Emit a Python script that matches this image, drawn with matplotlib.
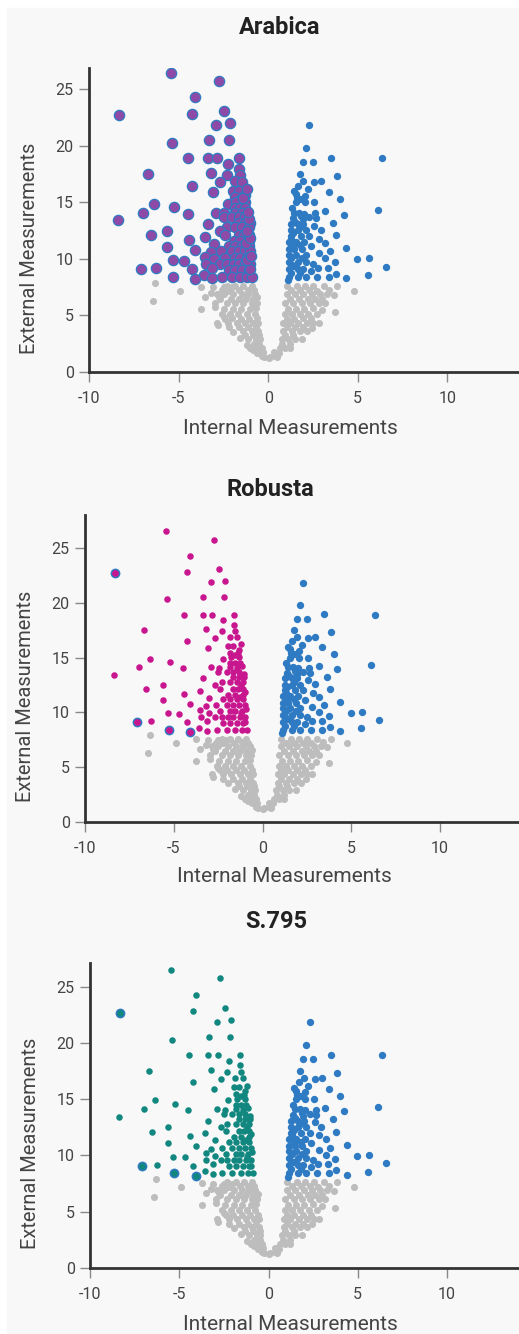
import matplotlib
matplotlib.use("Agg")
import matplotlib.pyplot as plt
from matplotlib.patches import Rectangle

plt.rcParams["font.family"] = ["Roboto", "DejaVu Sans"]
plt.rcParams["axes.unicode_minus"] = False

# ---- data (same points in all three panels) ----
left_x = [-5.44, -4.08, -4.25, -2.9, -2.72, -2.44, -2.12, -5.38, -3.33, -2.16,
          -4.45, -3.37, -2.83, -1.6, -2.22, -1.62, -6.69, -3.2, -2.31, -1.55,
          -2.68, -1.85, -1.45, -4.23, -3.06, -1.96, -1.64, -1.3, -1.83, -1.55,
          -6.35, -5.23, -6.97, -4.5, -2.9, -2.25, -1.79, -1.3, -1.83, -1.55,
          -1.27, -2.45, -1.83, -1.45, -8.36, -2.49, -2.02, -1.64, -1.31, -3.37,
          -1.64, -1.31, -1.02, -2.3, -1.83, -1.45, -1.08, -5.63, -2.68, -6.54,
          -2.39, -1.64, -1.36, -1.08, -4.41, -3.54, -1.93, -1.55, -1.08, -3.0,
          -5.63, -2.21, -1.83, -1.45, -1.08, -4.08, -3.2, -2.62, -2.02, -1.64,
          -1.31, -0.99, -3.52, -2.39, -1.83, -1.55, -1.17, -5.33, -4.7, -3.0,
          -3.48, -2.68, -2.3, -1.93, -1.64, -1.27, -0.99, -6.26, -4.23, -3.13,
          -2.2, -1.83, -1.45, -1.08, -3.58, -3.13, -2.58, -2.02, -1.55, -1.17,
          -0.89, -1.0, -1.2, -0.95, -1.25, -1.0, -1.2, -1.05, -1.15, -1.4, -1.2]
left_y = [26.5, 24.3, 22.8, 21.9, 25.75, 23.1, 22.0, 20.3, 20.5, 20.5,
          18.9, 18.9, 18.9, 18.9, 18.4, 18.0, 17.5, 17.6, 17.4, 17.45,
          16.8, 16.9, 16.85, 16.5, 15.9, 16.06, 16.06, 15.7, 15.45, 15.24,
          14.9, 14.6, 14.1, 14.0, 14.1, 14.9, 15.03, 15.03, 14.5, 14.5,
          14.5, 14.08, 14.1, 14.08, 13.45, 13.7, 13.7, 13.7, 13.7, 13.1,
          13.2, 13.2, 13.2, 12.8, 12.8, 12.8, 12.8, 12.5, 12.5, 12.1,
          12.16, 12.16, 12.16, 12.16, 11.7, 11.98, 11.6, 11.6, 11.6, 11.34,
          11.1, 11.18, 11.18, 11.18, 11.18, 10.8, 10.58, 10.67, 10.67, 10.67,
          10.67, 10.67, 10.2, 10.1, 10.1, 10.1, 10.1, 9.9, 9.85, 9.97,
          9.6, 9.58, 9.58, 9.58, 9.58, 9.58, 9.58, 9.17, 9.09, 9.24,
          9.03, 9.03, 9.03, 9.03, 8.58, 8.33, 8.4, 8.4, 8.4, 8.4,
          8.4, 9.1, 9.9, 10.3, 11.4, 11.9, 12.5, 13.5, 14.2, 15.4, 16.2]

# points drawn enlarged in the Robusta and S.795 panels
special_x = [-8.32, -7.09, -5.29, -4.08]
special_y = [22.7, 9.09, 8.43, 8.2]

right_x = [2.3, 2.11, 1.93, 2.49, 3.48, 6.36, 1.79, 1.96, 1.68, 2.58,
           2.97, 3.84, 2.23, 3.37, 1.55, 2.07, 4.03, 1.55, 2.07, 2.55,
           6.11, 1.46, 1.74, 2.02, 2.64, 3.18, 4.21, 1.36, 1.93, 2.3,
           2.68, 3.62, 1.27, 1.65, 1.96, 2.58, 2.96, 1.27, 1.65, 2.11,
           3.8, 1.27, 1.83, 2.3, 2.83, 3.2, 1.17, 1.55, 2.02, 2.39,
           4.37, 1.17, 1.46, 1.89, 2.81, 3.46, 1.17, 1.55, 2.11, 3.2,
           3.75, 4.97, 5.62, 1.17, 1.65, 2.11, 2.49, 2.77, 3.34, 6.56,
           1.17, 1.65, 1.93, 2.39, 3.8, 5.55, 1.17, 1.65, 2.11, 2.72,
           3.37, 4.37, 1.08, 1.25, 1.35, 1.3, 1.4, 1.3, 1.4, 1.5,
           1.35, 1.6, 1.45, 1.75, 1.85, 1.75, 1.8, 1.9, 1.45, 1.8]
right_y = [21.84, 19.83, 18.55, 18.55, 18.95, 18.9, 17.5, 16.9, 16.5, 16.8,
           16.9, 17.3, 16.15, 15.94, 15.76, 15.6, 15.3, 15.0, 15.0, 15.0,
           14.3, 14.1, 14.1, 14.0, 14.08, 14.23, 13.93, 13.6, 13.5, 13.7,
           13.62, 13.2, 13.1, 13.1, 13.1, 12.96, 12.56, 12.53, 12.53, 12.53,
           12.1, 12.0, 12.0, 12.0, 11.8, 11.43, 11.5, 11.5, 11.5, 11.13,
           10.95, 10.86, 10.86, 10.86, 10.52, 10.67, 10.37, 10.37, 10.37, 10.07,
           9.7, 9.97, 10.07, 9.76, 9.76, 9.76, 9.6, 9.24, 9.24, 9.3,
           9.12, 9.12, 9.12, 8.94, 8.7, 8.55, 8.4, 8.4, 8.4, 8.4,
           8.4, 8.3, 8.1, 8.8, 9.45, 10.1, 11.2, 11.8, 12.3, 13.3,
           14.5, 15.4, 16.0, 15.3, 13.8, 12.8, 11.2, 10.1, 9.4, 8.8]

grey_x = [-6.31, -6.44, -4.9, -3.74, -3.09, -3.52, -3.74, -2.96, -2.77, -2.49,
          -2.03, -2.81, -2.49, -1.94, -1.56, -1.19, -0.82, -0.35, 0.02, 0.39,
          -2.31, -1.84, -1.38, -0.91, -2.87, -2.49, -1.94, -1.47, -1.1, -0.73,
          -2.96, -2.31, -1.84, -1.38, -0.91, -0.63, -2.59, -2.12, -1.66, -1.19,
          -0.73, -2.87, -2.22, -1.75, -1.28, -0.82, -0.54, -1.38, -0.91, -0.54,
          -1.1, -0.67, -0.45, -1.0, -0.63, -0.35, -0.26, 0.11, 0.48,
          0.67, 0.95, 1.23, 0.76, 1.13, 1.51, 1.88, 0.85, 1.32, 1.79,
          2.16, 0.85, 1.23, 1.69, 2.16, 2.53, 2.81, 0.95, 1.32, 1.79,
          2.25, 2.72, 0.95, 1.41, 1.88, 2.35, 2.81, 3.18, 1.04, 1.51,
          1.97, 2.44, 2.9, 3.28, 3.74, 3.65, 1.04, 1.6, 2.07, 2.53,
          3.09, 3.84, 4.77,
          -2.6, -2.2, -1.6, -1.15, -0.8, -3.2, -2.7, -2.1, -1.65, -1.25,
          -0.85, -0.6, -2.45, -1.95, -1.5, -1.0, -0.68, -2.4, -2.0, -1.5,
          -1.05, -0.6, -2.2, -1.65, -1.15, -0.7, -0.5, -1.3, -0.85, -0.8,
          -0.5, -0.6, -0.3,
          1.3, 1.8, 2.3, 2.75, 3.4, 1.2, 1.7, 2.2, 2.6, 3.0,
          1.1, 1.55, 2.0, 2.5, 3.0, 1.05, 1.45, 1.95, 2.4, 1.05,
          1.5, 1.95, 2.45, 0.95, 1.4, 0.8, 1.2, 0.6, 0.35]
grey_y = [7.9, 6.3, 7.2, 7.55, 7.5, 6.67, 5.6, 5.78, 6.67, 7.5,
          7.5, 4.13, 4.9, 3.57, 2.98, 2.39, 1.95, 1.4, 1.2, 1.4,
          7.6, 7.6, 7.6, 7.6, 6.9, 6.9, 6.9, 6.9, 6.9, 6.9,
          6.1, 6.1, 6.1, 6.1, 6.1, 6.1, 5.13, 5.13, 5.13, 5.13,
          5.13, 4.34, 4.34, 4.34, 4.34, 4.34, 4.34, 3.6, 3.6, 3.6,
          2.9, 2.9, 2.9, 2.1, 2.1, 2.1, 1.3, 1.3, 1.3,
          2.1, 2.1, 2.1, 2.9, 2.9, 2.9, 2.9, 3.6, 3.6, 3.6,
          3.6, 4.34, 4.34, 4.34, 4.34, 4.34, 4.34, 5.13, 5.13, 5.13,
          5.13, 5.13, 6.1, 6.1, 6.1, 6.1, 6.1, 6.1, 6.9, 6.9,
          6.9, 6.9, 6.9, 6.9, 5.34, 6.8, 7.6, 7.6, 7.6, 7.6,
          7.6, 7.6, 7.2,
          7.25, 7.2, 7.25, 7.3, 7.25, 7.0, 6.45, 6.5, 6.5, 6.45,
          6.5, 6.6, 5.6, 5.6, 5.6, 5.6, 5.65, 4.7, 4.75, 4.7,
          4.7, 4.75, 3.95, 3.95, 3.95, 3.95, 3.3, 3.25, 3.25, 2.5,
          2.5, 1.7, 1.75,
          7.25, 7.25, 7.25, 7.2, 7.3, 6.5, 6.5, 6.5, 6.45, 6.5,
          5.6, 5.6, 5.6, 5.65, 5.5, 4.7, 4.7, 4.75, 4.75, 3.95,
          3.95, 3.95, 3.9, 3.25, 3.25, 2.5, 2.5, 1.7, 1.75]

titles = ["Arabica", "Robusta", "S.795"]
x_ticks = [-10, -5, 0, 5, 10]
y_ticks = [0, 5, 10, 15, 20, 25]

W, H = 519, 1334
fig = plt.figure(figsize=(W / 100, H / 100), dpi=100)
fig.patch.set_facecolor("white")
fig.add_artist(Rectangle((7 / W, 0), 1, 1 - 8 / H, transform=fig.transFigure,
                         color="#f8f8f8", zorder=0))

grey = "#bdbdbd"
blue = "#2f7bc3"
dark = "#333333"

# pixel layout of each panel: left, right, bottom, top, xmax, ymax, title pos, xlabel pos
panels = [
    dict(l=89, r=519, b=372, t=68, xmax=14.0, ymax=26.9, tx=280, ty=28, lx=290, ly=428,
         ylx=30, left_c="#8d4aa6", left_s=55, left_edge=blue, spec_c=None),
    dict(l=85, r=519, b=822, t=515, xmax=14.45, ymax=28.0, tx=270, ty=489, lx=284, ly=877,
         ylx=26, left_c="#c8168f", left_s=22, left_edge="none", spec_c="#c8168f"),
    dict(l=90, r=519, b=1268, t=963, xmax=14.03, ymax=27.1, tx=276, ty=922, lx=290, ly=1325,
         ylx=31, left_c="#12877f", left_s=22, left_edge="none", spec_c="#12877f"),
]

for title, p in zip(titles, panels):
    ax = fig.add_axes([p["l"] / W, 1 - p["b"] / H, (p["r"] - p["l"]) / W, (p["b"] - p["t"]) / H])
    ax.set_facecolor("none")
    ax.scatter(grey_x, grey_y, s=26, color=grey, linewidths=0, zorder=2)
    ax.scatter(right_x, right_y, s=28, color=blue, linewidths=0, zorder=3)
    if p["spec_c"] is None:
        ax.scatter(left_x + special_x, left_y + special_y, s=p["left_s"], color=p["left_c"],
                   edgecolors=p["left_edge"], linewidths=0.9, zorder=4)
    else:
        ax.scatter(left_x, left_y, s=p["left_s"], color=p["left_c"], linewidths=0, zorder=4)
        ax.scatter(special_x, special_y, s=50, color=blue, linewidths=0, zorder=5)
        ax.scatter(special_x, special_y, s=24, color=p["spec_c"], linewidths=0, zorder=6)

    ax.set_xlim(-10, p["xmax"])
    ax.set_ylim(0, p["ymax"])
    ax.set_xticks(x_ticks)
    ax.set_yticks(y_ticks)
    ax.tick_params(axis="both", colors="#888888", labelcolor="#444444", labelsize=11.5,
                   length=7, width=1)
    ax.tick_params(axis="x", pad=7)
    ax.tick_params(axis="y", pad=4)
    for side in ["top", "right"]:
        ax.spines[side].set_visible(False)
    for side in ["left", "bottom"]:
        ax.spines[side].set_color(dark)
        ax.spines[side].set_linewidth(2)

    fig.text(p["tx"] / W, 1 - p["ty"] / H, title, ha="center", va="center",
             fontsize=17, fontweight="bold", color="#222222")
    fig.text(p["lx"] / W, 1 - p["ly"] / H, "Internal Measurements", ha="center", va="center",
             fontsize=15, color="#444444")
    fig.text(p["ylx"] / W, 1 - ((p["b"] + p["t"]) / 2 + 28) / H, "External Measurements",
             ha="center", va="center", rotation=90, fontsize=14.5, color="#444444")

fig.savefig("out.png", dpi=100, facecolor=fig.get_facecolor())
